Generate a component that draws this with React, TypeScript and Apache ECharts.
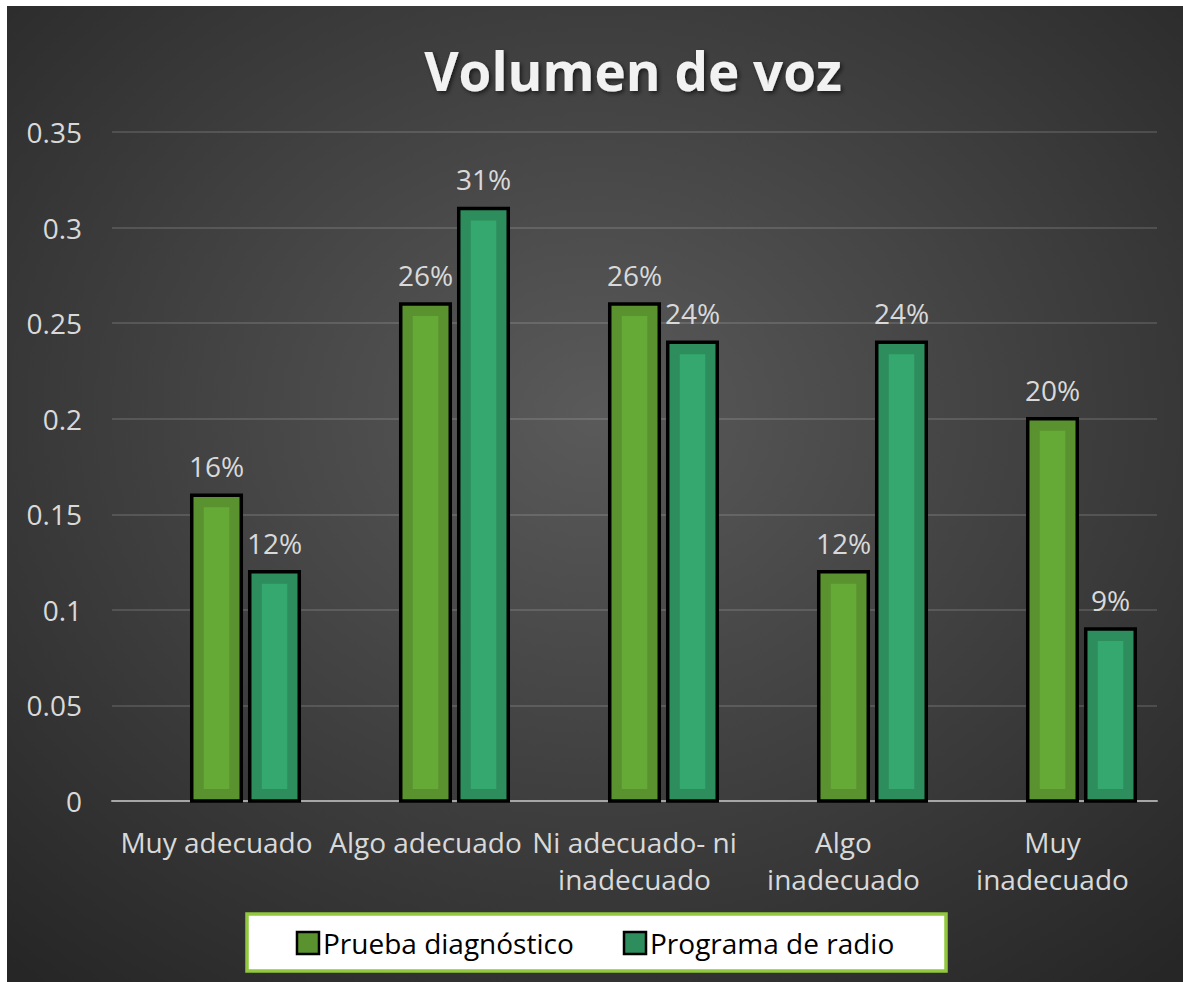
import React, { useEffect, useRef } from "react";
import * as echarts from "echarts";

const categories = [
  "Muy adecuado",
  "Algo adecuado",
  "Ni adecuado- ni\ninadecuado",
  "Algo\ninadecuado",
  "Muy\ninadecuado",
];
const seriesNames = ["Prueba diagnóstico", "Programa de radio"];
const pruebaValues = [0.16, 0.26, 0.26, 0.12, 0.2];
const radioValues = [0.12, 0.31, 0.24, 0.24, 0.09];
const yTicks = { min: 0, max: 0.35, interval: 0.05 };

const FONT = "'Open Sans', 'Noto Sans', sans-serif";
const outerColors = ["#5a922f", "#2d8d5d"];
const innerColors = ["#65aa37", "#35a86f"];
const offsets = [0, 0.2775];

function makeRender(si: number) {
  return (params: any, api: any) => {
    const idx = api.value(0);
    const v = api.value(1);
    const base = api.coord([idx, 0]);
    const top = api.coord([idx, v]);
    const band = api.size([1, 0])[0];
    const w = band * 0.237;
    const cx = base[0] + offsets[si] * band;
    const x = cx - w / 2;
    const h = base[1] - top[1];
    const inset = 12;
    return {
      type: "group",
      children: [
        {
          type: "rect",
          shape: { x, y: top[1], width: w, height: h },
          style: { fill: outerColors[si], stroke: "#000", lineWidth: 3.5 },
        },
        {
          type: "rect",
          shape: {
            x: x + inset,
            y: top[1] + inset,
            width: Math.max(0, w - inset * 2),
            height: Math.max(0, h - inset * 2),
          },
          style: { fill: innerColors[si] },
        },
        {
          type: "text",
          x: cx,
          y: top[1] - 15,
          style: {
            text: Math.round(v * 100) + "%",
            fill: "#d9d9d9",
            font: `28px ${FONT}`,
            align: "center",
            verticalAlign: "bottom",
          },
        },
      ],
    };
  };
}

export default function App() {
  const ref = useRef<HTMLDivElement>(null);
  useEffect(() => {
    if (!ref.current) return;
    const chart = echarts.init(ref.current, undefined, { renderer: "svg" });
    const seriesData = [pruebaValues, radioValues];
    chart.setOption({
      animation: false,
      backgroundColor: {
        type: "radial",
        x: 0.5,
        y: 0.42,
        r: 0.75,
        colorStops: [
          { offset: 0, color: "#5a5a5a" },
          { offset: 1, color: "#262626" },
        ],
      },
      graphic: [
        {
          type: "text",
          x: 626,
          y: 64,
          z: 10,
          style: {
            text: "Volumen de voz",
            fill: "#f2f2f2",
            font: `bold 53px ${FONT}`,
            align: "center",
            verticalAlign: "middle",
            textShadowColor: "rgba(0,0,0,0.6)",
            textShadowBlur: 4,
            textShadowOffsetX: 2,
            textShadowOffsetY: 2,
          },
        },
        {
          type: "rect",
          z: 0,
          shape: { x: 240, y: 908, width: 699, height: 57 },
          style: { fill: "#ffffff", stroke: "#92c83e", lineWidth: 3.5 },
        },
      ],
      legend: {
        data: seriesNames,
        left: "center",
        top: 923,
        padding: 0,
        z: 20,
        icon: "rect",
        itemWidth: 22,
        itemHeight: 22,
        itemGap: 49,
        itemStyle: { borderColor: "#000", borderWidth: 2.5 },
        textStyle: { color: "#000", fontSize: 28, fontFamily: FONT, padding: [0, 0, 0, -1] },
      },
      grid: { left: 105, right: 26, top: 126, bottom: 181, containLabel: false },
      xAxis: {
        type: "category",
        data: categories,
        axisLine: { show: true, lineStyle: { color: "#a6a6a6", width: 2 } },
        axisTick: { show: false },
        axisLabel: {
          interval: 0,
          color: "#d9d9d9",
          fontSize: 28,
          fontFamily: FONT,
          lineHeight: 37,
          margin: 22,
        },
        splitLine: { show: false },
      },
      yAxis: {
        type: "value",
        min: yTicks.min,
        max: yTicks.max,
        interval: yTicks.interval,
        axisLine: { show: false },
        axisTick: { show: false },
        axisLabel: { color: "#d9d9d9", fontSize: 28, fontFamily: FONT, margin: 30 },
        splitLine: { lineStyle: { color: "rgba(255,255,255,0.13)", width: 2 } },
      },
      series: seriesData.map((vals, si) => ({
        type: "custom",
        name: seriesNames[si],
        renderItem: makeRender(si),
        itemStyle: { color: outerColors[si] },
        encode: { x: 0, y: 1 },
        data: vals.map((v, i) => [i, v]),
        z: 3,
      })),
    });
    return () => chart.dispose();
  }, []);
  return (
    <div
      ref={ref}
      style={{ position: "absolute", left: 7, top: 6, width: 1176, height: 976 }}
    />
  );
}
